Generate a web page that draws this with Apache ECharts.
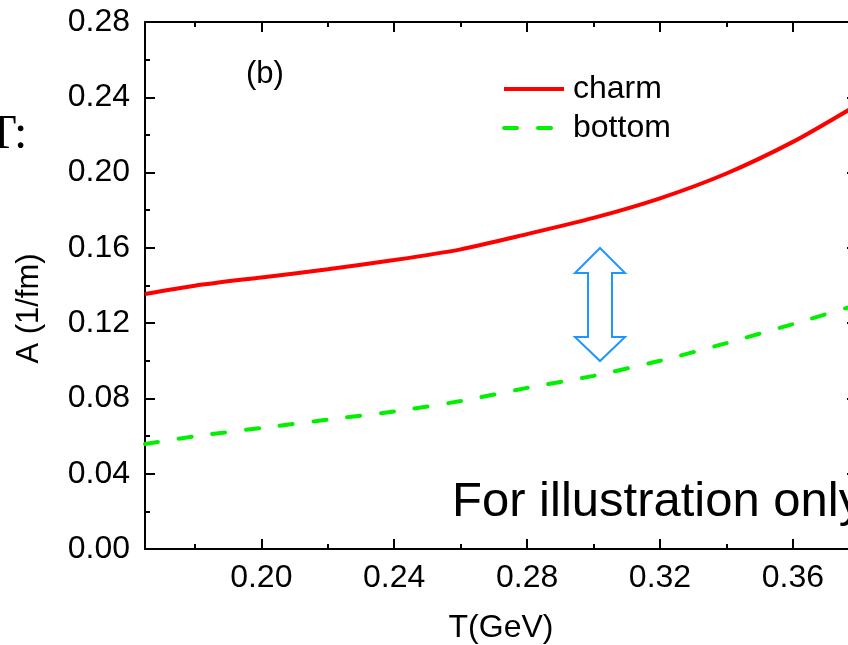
<!DOCTYPE html>
<html>
<head>
<meta charset="utf-8">
<script src="https://cdn.jsdelivr.net/npm/echarts@6/dist/echarts.min.js"></script>
<style>
  html, body { margin: 0; padding: 0; background: #fff; }
  #chart { width: 848px; height: 645px; }
</style>
</head>
<body>
<div id="chart"></div>
<script>
// Temperature grid (GeV) and spatial diffusion coefficient A (1/fm)
const temps = [0.165, 0.18, 0.20, 0.22, 0.24, 0.26, 0.28, 0.30, 0.32, 0.34, 0.36, 0.377];
const charm = [0.1355, 0.1399, 0.1443, 0.1486, 0.1535, 0.1592, 0.1673, 0.1759, 0.1863, 0.1995, 0.2163, 0.2335];
const bottom = [0.0558, 0.0599, 0.0643, 0.0687, 0.0731, 0.0786, 0.0856, 0.0920, 0.1000, 0.1094, 0.1195, 0.1285];

// Axis ticks
const xMajorTicks = [0.20, 0.24, 0.28, 0.32, 0.36];
const xMinorTicks = [0.18, 0.22, 0.26, 0.30, 0.34];
const xMin = 0.165, xMax = 0.3793;

const FONT = '"Liberation Sans", Arial, Helvetica, sans-serif';
const chart = echarts.init(document.getElementById('chart'), null, { renderer: 'canvas' });

const pairs = (ys) => temps.map((t, i) => [t, ys[i]]);

function xAxisDef(position, ticks, len, showLine, showLabel) {
  return {
    type: 'value', position: position, min: xMin, max: xMax,
    axisLine: { show: showLine, onZero: false, lineStyle: { color: '#000', width: 2 } },
    axisTick: { show: true, inside: true, length: len, customValues: ticks, lineStyle: { color: '#000', width: 2 } },
    axisLabel: {
      show: showLabel, customValues: ticks, margin: 13,
      formatter: (v) => v.toFixed(2),
      color: '#000', fontSize: 32, fontFamily: FONT
    },
    splitLine: { show: false }
  };
}

function yAxisDef(position, showLabel) {
  return {
    type: 'value', position: position, min: 0, max: 0.28, interval: 0.04,
    axisLine: { show: true, lineStyle: { color: '#000', width: 2 } },
    axisTick: { show: true, inside: true, length: 10, lineStyle: { color: '#000', width: 2 } },
    minorTick: { show: true, splitNumber: 2, length: 5, lineStyle: { color: '#000', width: 2 } },
    axisLabel: {
      show: showLabel, margin: 15,
      formatter: (v) => v.toFixed(2),
      color: '#000', fontSize: 32, fontFamily: FONT
    },
    splitLine: { show: false }
  };
}

const xBottom = xAxisDef('bottom', xMajorTicks, 10, true, true);
xBottom.name = 'T(GeV)';
xBottom.nameLocation = 'middle';
xBottom.nameGap = 63;
xBottom.nameTextStyle = { color: '#000', fontSize: 32, fontFamily: FONT };

const yLeft = yAxisDef('left', true);
yLeft.name = 'A (1/fm)';
yLeft.nameLocation = 'middle';
yLeft.nameGap = 100;
yLeft.nameTextStyle = { color: '#000', fontSize: 31, fontFamily: FONT, padding: [0, 46, 0, 0] };

// Outlined double-headed arrow between the two curves
const arrowPts = [[600, 248], [625, 273], [612, 273], [612, 337], [625, 337], [600, 361],
                  [575, 337], [588, 337], [588, 273], [575, 273]];

chart.setOption({
  backgroundColor: '#fff',
  animation: false,
  // plot frame runs a few pixels past the right edge of the canvas
  grid: { left: 145, width: 712, top: 22, bottom: 96, containLabel: false, outerBoundsMode: 'none' },
  xAxis: [
    xBottom,
    xAxisDef('bottom', xMinorTicks, 5, false, false),
    xAxisDef('top', xMajorTicks, 10, true, false),
    xAxisDef('top', xMinorTicks, 5, false, false)
  ],
  yAxis: [yLeft, yAxisDef('right', false)],
  legend: {
    data: ['charm', 'bottom'],
    orient: 'vertical', left: 502, top: 73, padding: 0,
    itemWidth: 60, itemHeight: 14, itemGap: 7,
    itemStyle: { opacity: 0 },
    lineStyle: { width: 4 },
    textStyle: { color: '#000', fontSize: 32, fontFamily: FONT, padding: [0, 0, 0, 4] }
  },
  series: [
    {
      name: 'charm', type: 'line', data: pairs(charm), xAxisIndex: 0, yAxisIndex: 0,
      showSymbol: false, symbol: 'none', smooth: 0.25,
      lineStyle: { color: '#ff0000', width: 4 }, itemStyle: { color: '#ff0000' }
    },
    {
      name: 'bottom', type: 'line', data: pairs(bottom), xAxisIndex: 0, yAxisIndex: 0,
      showSymbol: false, symbol: 'none', smooth: 0.25,
      lineStyle: { color: '#00f000', width: 4, type: [13, 21], cap: 'round' }, itemStyle: { color: '#00f000' }
    }
  ],
  graphic: [
    {
      type: 'text', x: 246, y: 59,
      style: { text: '(b)', fill: '#000', fontSize: 31, fontFamily: FONT, verticalAlign: 'top' }
    },
    {
      type: 'text', x: 452, y: 478,
      style: { text: 'For illustration only', fill: '#000', fontSize: 49, fontFamily: FONT, verticalAlign: 'top' }
    },
    {
      type: 'text', x: -13, y: 111,
      style: { text: 'T:', fill: '#000', fontSize: 48, fontFamily: '"Liberation Serif", "Times New Roman", serif', verticalAlign: 'top' }
    },
    {
      type: 'polygon',
      shape: { points: arrowPts },
      style: { fill: 'none', stroke: '#1e96ff', lineWidth: 2 }
    }
  ]
});
</script>
</body>
</html>
